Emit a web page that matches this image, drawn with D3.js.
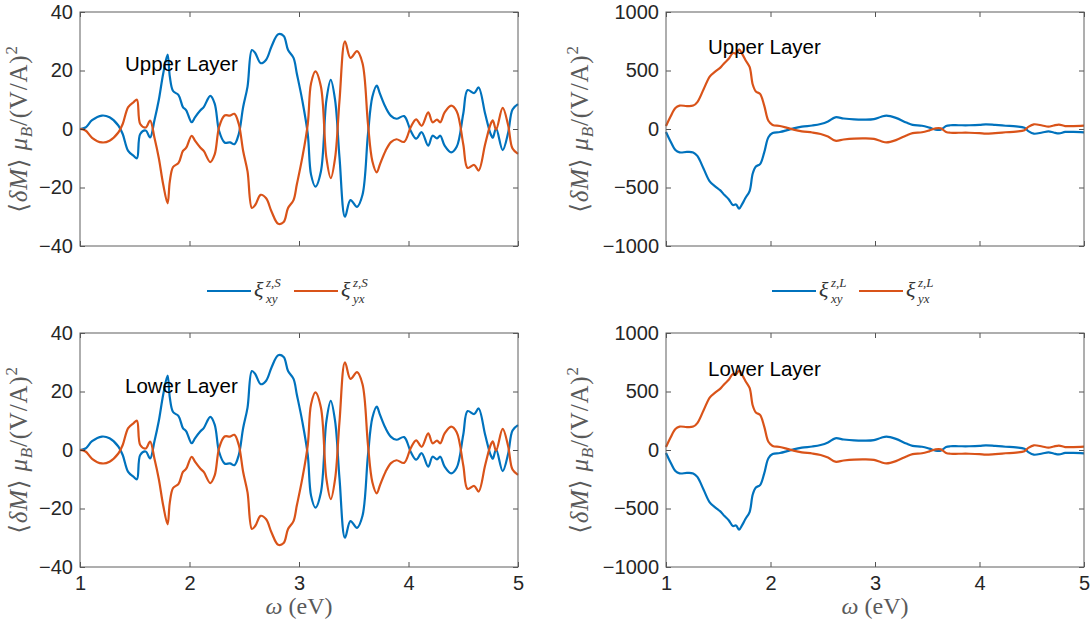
<!DOCTYPE html>
<html>
<head>
<meta charset="utf-8">
<script src="https://cdn.jsdelivr.net/npm/d3@7"></script>
<style>
  html, body { margin: 0; padding: 0; background: #fff; }
  svg { display: block; }
</style>
</head>
<body>
<svg id="chart" width="1091" height="629"></svg>
<script>
// ---------------- DATA ----------------
// Spin contribution (S), photon energy omega (eV)
const omegaS = [1.00,1.05,1.11,1.20,1.27,1.35,1.39,1.44,1.49,1.52,1.55,1.60,1.64,1.68,1.72,1.76,1.80,1.82,1.85,1.90,1.94,1.97,2.02,2.05,2.10,2.13,2.19,2.23,2.27,2.32,2.37,2.41,2.45,2.49,2.53,2.57,2.60,2.65,2.70,2.75,2.81,2.86,2.90,2.95,2.98,3.03,3.08,3.11,3.15,3.20,3.25,3.29,3.33,3.37,3.42,3.47,3.53,3.58,3.63,3.67,3.71,3.74,3.79,3.84,3.89,3.96,4.02,4.07,4.12,4.18,4.22,4.26,4.29,4.33,4.39,4.44,4.50,4.54,4.60,4.64,4.70,4.75,4.77,4.80,4.86,4.91,4.95,5.00];
const xiXyS = [0,0.5,3,4.6,4,1.2,-1.7,-7.5,-9.2,-10,-1.7,-0.5,-2.9,3,10,19,25.4,18,13,11.6,7.5,6.4,2.3,4,6.4,7.5,11.3,8.7,-0.6,-4.6,-4.6,-5.2,-1.7,7.5,14.5,27,26,22.5,23.7,28.3,32.4,31.8,27,24.3,19,9.8,-1.7,-15.6,-19.7,-14.5,9.8,16.8,9.8,-9.8,-30,-24.3,-26.6,-22.5,-1.7,11,14.8,12,7.5,4.5,3.5,4.4,-0.6,-3.3,-1.1,-5.7,-2.3,-3.2,-2.3,-5.7,-8,-6.1,5.2,13.3,12.3,14.2,5.2,-1.7,-3,0.2,-7.2,-1.3,6.7,8.5];
const xiYxS = [0,-0.5,-3,-4.6,-4,-1.2,1.7,7.5,9.2,10,1.7,0.5,2.9,-3,-10,-19,-25.4,-18,-13,-11.6,-7.5,-6.4,-2.3,-4,-6.4,-7.5,-11.3,-8.7,0.6,4.6,4.6,5.2,1.7,-7.5,-14.5,-27,-26,-22.5,-23.7,-28.3,-32.4,-31.8,-27,-24.3,-19,-9.8,1.7,15.6,19.7,14.5,-9.8,-16.8,-9.8,9.8,30,24.3,26.6,22.5,1.7,-11,-14.8,-12,-7.5,-4.5,-3.5,-4.4,0.6,3.3,1.1,5.7,2.3,3.2,2.3,5.7,8,6.1,-5.2,-13.3,-12.3,-14.2,-5.2,1.7,3,-0.2,7.2,1.3,-6.7,-8.5];

// Orbital contribution (L)
const omegaL = [1.00,1.04,1.09,1.13,1.20,1.26,1.30,1.36,1.42,1.47,1.52,1.56,1.60,1.64,1.67,1.70,1.73,1.76,1.80,1.83,1.86,1.90,1.94,1.98,2.02,2.09,2.16,2.22,2.30,2.40,2.48,2.55,2.62,2.70,2.80,2.90,2.99,3.06,3.11,3.20,3.30,3.36,3.45,3.52,3.58,3.63,3.68,3.72,3.80,3.90,4.00,4.06,4.15,4.25,4.35,4.43,4.47,4.52,4.60,4.66,4.71,4.76,4.82,4.90,5.00];
const xiXyL = [-25,-100,-180,-200,-196,-200,-230,-340,-450,-490,-525,-565,-600,-650,-645,-680,-640,-590,-530,-380,-320,-300,-200,-70,-35,-26,-10,5,20,30,43,65,100,90,82,80,85,105,115,95,55,35,28,12,-5,-5,25,32,32,32,35,40,35,28,22,10,-20,-40,-30,-20,-30,-38,-25,-25,-28];
const xiYxL = [25,100,180,200,196,200,230,340,450,490,525,565,600,650,645,680,640,590,530,380,320,300,200,70,35,26,10,-5,-20,-30,-43,-65,-100,-90,-82,-80,-85,-105,-115,-95,-55,-35,-28,-12,5,5,-25,-32,-32,-32,-35,-40,-35,-28,-22,-10,20,40,30,20,30,38,25,25,28];

const xTicks = [1,2,3,4,5];
const yTicksS = [-40,-20,0,20,40];
const yTicksL = [-1000,-500,0,500,1000];
const layerLabels = ["Upper Layer","Lower Layer"];

// ---------------- STYLE ----------------
const BLUE = "#0072BD", ORANGE = "#D95319";
const AXIS = "#262626";
const SERIF = "'Liberation Serif','DejaVu Serif',serif";
const svg = d3.select("#chart");
svg.append("rect").attr("width",1091).attr("height",629).attr("fill","#fff");

const panels = [
  {x0:80,  x1:518,  y0:12,  y1:246, om:omegaS, a:xiXyS, b:xiYxS, dom:[-40,40],     ticks:yTicksS, label:layerLabels[0], lx:125, ly:71, ylx:27,  xlab:false},
  {x0:666, x1:1084, y0:12,  y1:246, om:omegaL, a:xiXyL, b:xiYxL, dom:[-1000,1000], ticks:yTicksL, label:layerLabels[0], lx:708, ly:54, ylx:588, xlab:false},
  {x0:80,  x1:518,  y0:333, y1:567, om:omegaS, a:xiXyS, b:xiYxS, dom:[-40,40],     ticks:yTicksS, label:layerLabels[1], lx:125, ly:393, ylx:27, xlab:true},
  {x0:666, x1:1084, y0:333, y1:567, om:omegaL, a:xiXyL, b:xiYxL, dom:[-1000,1000], ticks:yTicksL, label:layerLabels[1], lx:708, ly:376, ylx:588, xlab:true}
];

function styleAxis(g){
  g.select(".domain").attr("stroke","none");
  g.selectAll(".tick line").attr("stroke",AXIS).attr("stroke-width",0.8);
  g.selectAll(".tick text").attr("fill",AXIS)
    .style("font-family","'Liberation Sans', Arial, sans-serif").style("font-size","20px");
}

panels.forEach(p => {
  const x = d3.scaleLinear().domain([1,5]).range([p.x0,p.x1]);
  const y = d3.scaleLinear().domain(p.dom).range([p.y1,p.y0]);
  const g = svg.append("g");

  // data lines
  const mk = (arr) => d3.line().x((d,i)=>x(p.om[i])).y(d=>y(d)).curve(d3.curveCatmullRom.alpha(0.5))(arr);
  g.append("path").attr("d",mk(p.a)).attr("fill","none").attr("stroke",BLUE).attr("stroke-width",2.2).attr("stroke-linejoin","round");
  g.append("path").attr("d",mk(p.b)).attr("fill","none").attr("stroke",ORANGE).attr("stroke-width",2.2).attr("stroke-linejoin","round");

  // axes (inward ticks, mirrored)
  const bx = g.append("g").attr("transform",`translate(0,${p.y1})`)
    .call(d3.axisBottom(x).tickValues(xTicks).tickSize(-5).tickPadding(9).tickFormat(p.xlab?d3.format("d"):()=>""));
  styleAxis(bx);
  const tx = g.append("g").attr("transform",`translate(0,${p.y0})`)
    .call(d3.axisTop(x).tickValues(xTicks).tickSize(-5).tickFormat(()=>""));
  styleAxis(tx);
  const ly = g.append("g").attr("transform",`translate(${p.x0},0)`)
    .call(d3.axisLeft(y).tickValues(p.ticks).tickSize(-5).tickPadding(7).tickFormat(d3.format("d")));
  styleAxis(ly);
  const ry = g.append("g").attr("transform",`translate(${p.x1},0)`)
    .call(d3.axisRight(y).tickValues(p.ticks).tickSize(-5).tickFormat(()=>""));
  styleAxis(ry);
  g.append("rect").attr("x",p.x0).attr("y",p.y0).attr("width",p.x1-p.x0).attr("height",p.y1-p.y0)
    .attr("fill","none").attr("stroke","#5e5e5e").attr("stroke-width",1);

  // layer label
  g.append("text").attr("x",p.lx).attr("y",p.ly).text(p.label)
    .style("font-family","'Liberation Sans', Arial, sans-serif").style("font-size","20.5px").attr("fill","#000");

  // y label
  const yl = g.append("text")
    .attr("transform",`translate(${p.ylx},${(p.y0+p.y1)/2}) rotate(-90)`)
    .attr("text-anchor","middle").attr("fill","#5a5a5a")
    .style("font-family",SERIF).style("font-size","25px").style("letter-spacing","0.8px");
  yl.append("tspan").text("⟨");
  yl.append("tspan").text("δM").style("font-style","italic");
  yl.append("tspan").text("⟩  ");
  yl.append("tspan").text("μ").style("font-style","italic");
  yl.append("tspan").text("B").style("font-style","italic").style("font-size","17px").attr("dy",5);
  yl.append("tspan").text("/(V/A)").attr("dy",-5);
  yl.append("tspan").text("2").style("font-size","17px").attr("dy",-10);

  // x label
  if (p.xlab) {
    const xl = g.append("text").attr("x",(p.x0+p.x1)/2).attr("y",614).attr("text-anchor","middle")
      .attr("fill","#5a5a5a").style("font-family",SERIF).style("font-size","24px");
    xl.append("tspan").text("ω").style("font-style","italic");
    xl.append("tspan").text(" (eV)");
  }
});

// ---------------- LEGENDS ----------------
const legends = [
  {x:207, y:291, sup:"z,S"},
  {x:772, y:291, sup:"z,L"}
];
const subs = ["xy","yx"];
legends.forEach(L => {
  [BLUE, ORANGE].forEach((c,i) => {
    const bx = L.x + i*87;
    svg.append("line").attr("x1",bx).attr("x2",bx+44).attr("y1",L.y).attr("y2",L.y)
      .attr("stroke",c).attr("stroke-width",2.2);
    svg.append("text").attr("x",bx+47).attr("y",L.y+6).text("ξ")
      .style("font-family",SERIF).style("font-style","italic").style("font-size","22px").attr("fill","#333");
    svg.append("text").attr("x",bx+59).attr("y",L.y-4).text(L.sup)
      .style("font-family",SERIF).style("font-style","italic").style("font-size","13px").attr("fill","#333");
    svg.append("text").attr("x",bx+59).attr("y",L.y+12).text(subs[i])
      .style("font-family",SERIF).style("font-style","italic").style("font-size","13px").attr("fill","#333");
  });
});
</script>
</body>
</html>
